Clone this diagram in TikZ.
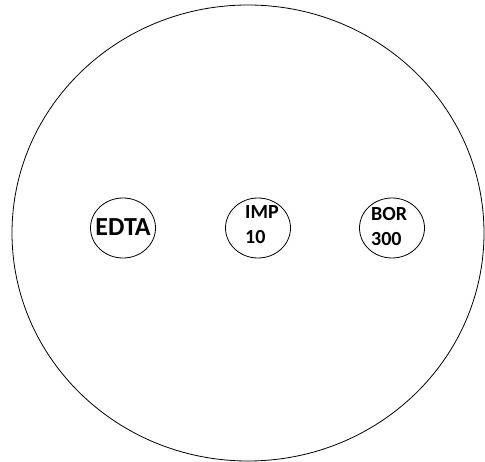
\documentclass[tikz,border=0pt]{standalone}
\usepackage{fontspec}
\setmainfont{Carlito}
\usetikzlibrary{shapes.geometric}
\tikzset{
  disc/.style={ellipse, draw, line width=0.8pt, minimum width=65pt, minimum height=60pt, inner sep=0pt},
  disclabel/.style={font=\bfseries\fontsize{20}{25}\selectfont, align=left, inner sep=0pt}
}
\begin{document}
\begin{tikzpicture}[x=1pt, y=-1pt]
  \useasboundingbox (0,0) rectangle (485,462);
  % Plate
  \draw[line width=0.8pt] (248,233) ellipse [x radius=236, y radius=228];
  % Discs
  \node[disc] (edta) at (123,228) {};
  \node[disc] (imp) at (258,228) {};
  \node[disc] (bor) at (392,228) {};
  % Labels
  \node[disclabel, font=\bfseries\fontsize{26}{30}\selectfont] (edtatext) at ([yshift=1pt]edta.center) {EDTA};
  \node[disclabel, anchor=west] (imptext) at ([xshift=-13pt, yshift=3pt]imp.center) {IMP\\10};
  \node[disclabel, anchor=west] (bortext) at ([xshift=-21pt, yshift=1pt]bor.center) {BOR\\300};
\end{tikzpicture}
\end{document}
